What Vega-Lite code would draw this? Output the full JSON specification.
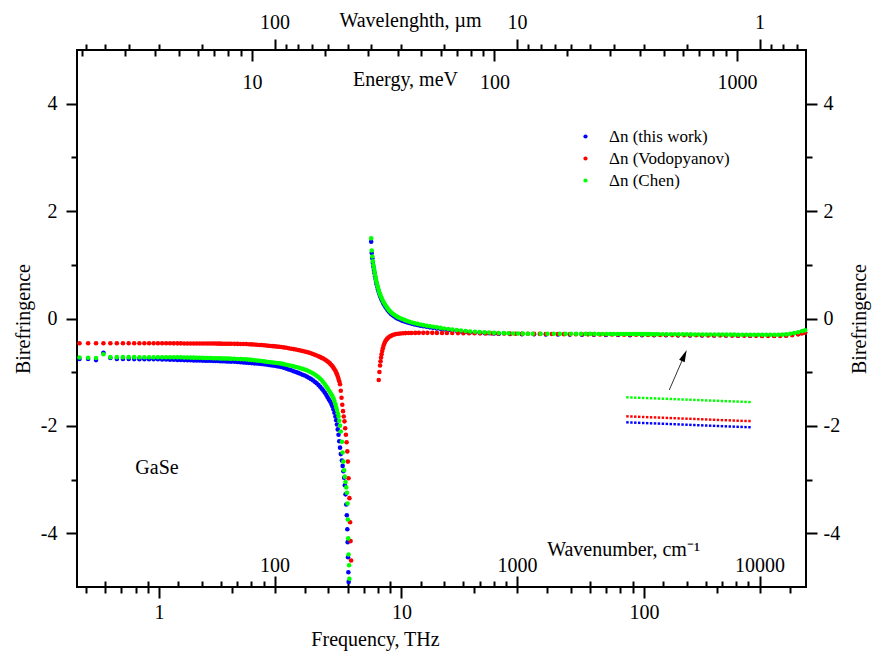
{
"$schema":"https://vega.github.io/schema/vega-lite/v6.json",
"width":729,"height":537,
"autosize":{"type":"none"},
"padding":{"left":77,"top":50,"right":66,"bottom":75},
"background":"white",
"config":{
 "view":{"stroke":"black","strokeWidth":2},
 "axis":{"domain":false,"grid":false,"tickColor":"black","tickWidth":2,"labelFont":"Liberation Serif","labelFontSize":20,"labelColor":"black","titleFont":"Liberation Serif","titleFontSize":20,"titleFontWeight":"normal","titleColor":"black","labelFlush":false,"labelOverlap":false},
 "legend":{"labelFont":"Liberation Serif","labelFontSize":17,"labelColor":"black"},
 "text":{"font":"Liberation Serif"}
},
"datasets":{
"main":[
{"f":0.47,"s":"B","v":-0.755},{"f":0.51,"s":"B","v":-0.755},{"f":0.55,"s":"B","v":-0.775},{"f":0.59,"s":"B","v":-0.64},{"f":0.63,"s":"B","v":-0.735},{"f":0.67,"s":"B","v":-0.755},{"f":0.71,"s":"B","v":-0.755},{"f":0.75,"s":"B","v":-0.755},{"f":0.79,"s":"B","v":-0.756},{"f":0.83,"s":"B","v":-0.757},{"f":0.87,"s":"B","v":-0.757},{"f":0.91,"s":"B","v":-0.758},{"f":0.95,"s":"B","v":-0.759},{"f":0.99,"s":"B","v":-0.76},{"f":1.03,"s":"B","v":-0.763},{"f":1.07,"s":"B","v":-0.765},{"f":1.11,"s":"B","v":-0.767},{"f":1.15,"s":"B","v":-0.769},{"f":1.19,"s":"B","v":-0.771},{"f":1.23,"s":"B","v":-0.773},{"f":1.27,"s":"B","v":-0.775},{"f":1.31,"s":"B","v":-0.777},{"f":1.35,"s":"B","v":-0.779},{"f":1.39,"s":"B","v":-0.78},{"f":1.43,"s":"B","v":-0.781},{"f":1.47,"s":"B","v":-0.783},{"f":1.51,"s":"B","v":-0.784},{"f":1.55,"s":"B","v":-0.785},{"f":1.59,"s":"B","v":-0.787},{"f":1.63,"s":"B","v":-0.788},{"f":1.67,"s":"B","v":-0.789},{"f":1.71,"s":"B","v":-0.791},{"f":1.75,"s":"B","v":-0.792},{"f":1.79,"s":"B","v":-0.794},{"f":1.83,"s":"B","v":-0.795},{"f":1.87,"s":"B","v":-0.797},{"f":1.91,"s":"B","v":-0.799},{"f":1.95,"s":"B","v":-0.801},{"f":1.99,"s":"B","v":-0.803},
{"f":2.05,"s":"B","v":-0.806},{"f":2.11,"s":"B","v":-0.81},{"f":2.17,"s":"B","v":-0.814},{"f":2.23,"s":"B","v":-0.818},{"f":2.29,"s":"B","v":-0.822},{"f":2.35,"s":"B","v":-0.826},{"f":2.41,"s":"B","v":-0.831},{"f":2.47,"s":"B","v":-0.835},{"f":2.53,"s":"B","v":-0.839},{"f":2.59,"s":"B","v":-0.844},{"f":2.65,"s":"B","v":-0.848},{"f":2.71,"s":"B","v":-0.853},{"f":2.77,"s":"B","v":-0.858},{"f":2.83,"s":"B","v":-0.863},{"f":2.89,"s":"B","v":-0.869},{"f":2.95,"s":"B","v":-0.875},{"f":3.01,"s":"B","v":-0.881},{"f":3.07,"s":"B","v":-0.887},{"f":3.13,"s":"B","v":-0.894},{"f":3.19,"s":"B","v":-0.902},
{"f":3.27,"s":"B","v":-0.918},{"f":3.35,"s":"B","v":-0.933},{"f":3.43,"s":"B","v":-0.95},{"f":3.51,"s":"B","v":-0.965},{"f":3.59,"s":"B","v":-0.981},{"f":3.67,"s":"B","v":-0.997},{"f":3.75,"s":"B","v":-1.013},{"f":3.83,"s":"B","v":-1.03},{"f":3.91,"s":"B","v":-1.047},{"f":3.99,"s":"B","v":-1.063},{"f":4.07,"s":"B","v":-1.082},{"f":4.15,"s":"B","v":-1.103},{"f":4.23,"s":"B","v":-1.125},{"f":4.31,"s":"B","v":-1.15},{"f":4.39,"s":"B","v":-1.177},{"f":4.47,"s":"B","v":-1.207},
{"f":4.55,"s":"B","v":-1.24},{"f":4.62,"s":"B","v":-1.272},{"f":4.69,"s":"B","v":-1.306},{"f":4.76,"s":"B","v":-1.343},{"f":4.83,"s":"B","v":-1.383},{"f":4.9,"s":"B","v":-1.425},{"f":4.96,"s":"B","v":-1.465},{"f":5.02,"s":"B","v":-1.507},{"f":5.08,"s":"B","v":-1.545},{"f":5.14,"s":"B","v":-1.59},{"f":5.19,"s":"B","v":-1.635},{"f":5.24,"s":"B","v":-1.69},{"f":5.29,"s":"B","v":-1.755},{"f":5.34,"s":"B","v":-1.825},{"f":5.38,"s":"B","v":-1.895},{"f":5.42,"s":"B","v":-1.975},{"f":5.46,"s":"B","v":-2.065},{"f":5.5,"s":"B","v":-2.165},{"f":5.54,"s":"B","v":-2.285},{"f":5.58,"s":"B","v":-2.405},{"f":5.62,"s":"B","v":-2.525},
{"f":5.68,"s":"B","v":-2.645},{"f":5.72,"s":"B","v":-2.745},{"f":5.76,"s":"B","v":-2.845},{"f":5.8,"s":"B","v":-2.965},{"f":5.84,"s":"B","v":-3.105},{"f":5.88,"s":"B","v":-3.275},{"f":5.92,"s":"B","v":-3.465},{"f":5.95,"s":"B","v":-3.665},{"f":5.98,"s":"B","v":-3.925},{"f":6.0,"s":"B","v":-4.165},{"f":6.02,"s":"B","v":-4.445},{"f":6.04,"s":"B","v":-4.725},{"f":6.055,"s":"B","v":-4.905},
{"f":7.5,"s":"B","v":1.43},{"f":7.54,"s":"B","v":1.22},{"f":7.58,"s":"B","v":1.12},{"f":7.62,"s":"B","v":1.035},{"f":7.66,"s":"B","v":0.965},{"f":7.7,"s":"B","v":0.905},{"f":7.74,"s":"B","v":0.845},{"f":7.78,"s":"B","v":0.785},{"f":7.82,"s":"B","v":0.735},{"f":7.86,"s":"B","v":0.685},{"f":7.9,"s":"B","v":0.64},{"f":7.95,"s":"B","v":0.59},{"f":8.0,"s":"B","v":0.545},{"f":8.05,"s":"B","v":0.5},{"f":8.1,"s":"B","v":0.46},{"f":8.16,"s":"B","v":0.42},{"f":8.22,"s":"B","v":0.385},{"f":8.28,"s":"B","v":0.35},{"f":8.35,"s":"B","v":0.315},{"f":8.42,"s":"B","v":0.28},{"f":8.5,"s":"B","v":0.25},{"f":8.58,"s":"B","v":0.22},{"f":8.67,"s":"B","v":0.19},{"f":8.76,"s":"B","v":0.16},{"f":8.86,"s":"B","v":0.13},{"f":8.97,"s":"B","v":0.105},{"f":9.08,"s":"B","v":0.08},{"f":9.2,"s":"B","v":0.06},{"f":9.33,"s":"B","v":0.04},{"f":9.47,"s":"B","v":0.02},{"f":9.62,"s":"B","v":0},{"f":9.78,"s":"B","v":-0.015},{"f":9.95,"s":"B","v":-0.03},{"f":10.13,"s":"B","v":-0.045},{"f":10.33,"s":"B","v":-0.058},{"f":10.55,"s":"B","v":-0.072},{"f":10.79,"s":"B","v":-0.085},{"f":11.05,"s":"B","v":-0.097},{"f":11.33,"s":"B","v":-0.11},{"f":11.63,"s":"B","v":-0.122},{"f":11.95,"s":"B","v":-0.133},{"f":12.3,"s":"B","v":-0.143},{"f":12.7,"s":"B","v":-0.155},{"f":13.1,"s":"B","v":-0.165},{"f":13.5,"s":"B","v":-0.174},{"f":14.0,"s":"B","v":-0.184},{"f":14.5,"s":"B","v":-0.193},{"f":15.0,"s":"B","v":-0.202},{"f":15.6,"s":"B","v":-0.212},{"f":16.2,"s":"B","v":-0.221},{"f":16.9,"s":"B","v":-0.23},{"f":17.6,"s":"B","v":-0.239},{"f":18.4,"s":"B","v":-0.247},{"f":19.2,"s":"B","v":-0.255},{"f":20.1,"s":"B","v":-0.261},{"f":21.0,"s":"B","v":-0.267},{"f":22.0,"s":"B","v":-0.272},{"f":23.0,"s":"B","v":-0.276},{"f":24.1,"s":"B","v":-0.28},{"f":25.2,"s":"B","v":-0.283},
{"f":28,"s":"B","v":-0.288},{"f":31.4,"s":"B","v":-0.291},{"f":35.2,"s":"B","v":-0.294},{"f":39.4,"s":"B","v":-0.296},{"f":44.2,"s":"B","v":-0.298},{"f":49.5,"s":"B","v":-0.3},{"f":55.5,"s":"B","v":-0.302},{"f":62.2,"s":"B","v":-0.304},{"f":69.7,"s":"B","v":-0.306},{"f":78.2,"s":"B","v":-0.308},{"f":87.6,"s":"B","v":-0.31},{"f":98.2,"s":"B","v":-0.311},{"f":110,"s":"B","v":-0.312},{"f":123.4,"s":"B","v":-0.313},{"f":138.3,"s":"B","v":-0.314},{"f":155,"s":"B","v":-0.315},{"f":173.7,"s":"B","v":-0.316},{"f":194.7,"s":"B","v":-0.317},{"f":218,"s":"B","v":-0.318},{"f":244.5,"s":"B","v":-0.319},{"f":274,"s":"B","v":-0.32},{"f":307,"s":"B","v":-0.321},{"f":344.5,"s":"B","v":-0.32},{"f":386,"s":"B","v":-0.315},{"f":432.5,"s":"B","v":-0.29},{"f":462,"s":"B","v":-0.26},
{"f":0.47,"s":"R","v":-0.46},{"f":0.51,"s":"R","v":-0.46},{"f":0.55,"s":"R","v":-0.46},{"f":0.59,"s":"R","v":-0.46},{"f":0.63,"s":"R","v":-0.46},{"f":0.67,"s":"R","v":-0.46},{"f":0.71,"s":"R","v":-0.46},{"f":0.75,"s":"R","v":-0.46},{"f":0.79,"s":"R","v":-0.46},{"f":0.83,"s":"R","v":-0.46},{"f":0.87,"s":"R","v":-0.46},{"f":0.91,"s":"R","v":-0.46},{"f":0.95,"s":"R","v":-0.461},{"f":0.99,"s":"R","v":-0.461},{"f":1.03,"s":"R","v":-0.462},{"f":1.07,"s":"R","v":-0.462},{"f":1.11,"s":"R","v":-0.462},{"f":1.15,"s":"R","v":-0.463},{"f":1.19,"s":"R","v":-0.463},{"f":1.23,"s":"R","v":-0.463},{"f":1.27,"s":"R","v":-0.464},{"f":1.31,"s":"R","v":-0.464},{"f":1.35,"s":"R","v":-0.464},{"f":1.39,"s":"R","v":-0.465},{"f":1.43,"s":"R","v":-0.465},{"f":1.47,"s":"R","v":-0.465},{"f":1.51,"s":"R","v":-0.466},{"f":1.55,"s":"R","v":-0.466},{"f":1.59,"s":"R","v":-0.466},{"f":1.63,"s":"R","v":-0.467},{"f":1.67,"s":"R","v":-0.467},{"f":1.71,"s":"R","v":-0.467},{"f":1.75,"s":"R","v":-0.468},{"f":1.79,"s":"R","v":-0.468},{"f":1.83,"s":"R","v":-0.469},{"f":1.87,"s":"R","v":-0.469},{"f":1.91,"s":"R","v":-0.47},{"f":1.95,"s":"R","v":-0.47},{"f":1.99,"s":"R","v":-0.471},
{"f":2.05,"s":"R","v":-0.472},{"f":2.11,"s":"R","v":-0.473},{"f":2.17,"s":"R","v":-0.474},{"f":2.23,"s":"R","v":-0.475},{"f":2.29,"s":"R","v":-0.476},{"f":2.35,"s":"R","v":-0.479},{"f":2.41,"s":"R","v":-0.482},{"f":2.47,"s":"R","v":-0.485},{"f":2.53,"s":"R","v":-0.488},{"f":2.59,"s":"R","v":-0.492},{"f":2.65,"s":"R","v":-0.495},{"f":2.71,"s":"R","v":-0.499},{"f":2.77,"s":"R","v":-0.503},{"f":2.83,"s":"R","v":-0.507},{"f":2.89,"s":"R","v":-0.511},{"f":2.95,"s":"R","v":-0.515},{"f":3.01,"s":"R","v":-0.519},{"f":3.07,"s":"R","v":-0.523},{"f":3.13,"s":"R","v":-0.526},{"f":3.19,"s":"R","v":-0.53},
{"f":3.27,"s":"R","v":-0.538},{"f":3.35,"s":"R","v":-0.546},{"f":3.43,"s":"R","v":-0.554},{"f":3.51,"s":"R","v":-0.562},{"f":3.59,"s":"R","v":-0.57},{"f":3.67,"s":"R","v":-0.578},{"f":3.75,"s":"R","v":-0.587},{"f":3.83,"s":"R","v":-0.596},{"f":3.91,"s":"R","v":-0.605},{"f":3.99,"s":"R","v":-0.613},{"f":4.07,"s":"R","v":-0.623},{"f":4.15,"s":"R","v":-0.635},{"f":4.23,"s":"R","v":-0.648},{"f":4.31,"s":"R","v":-0.661},{"f":4.39,"s":"R","v":-0.675},{"f":4.47,"s":"R","v":-0.69},
{"f":4.55,"s":"R","v":-0.705},{"f":4.62,"s":"R","v":-0.719},{"f":4.69,"s":"R","v":-0.733},{"f":4.76,"s":"R","v":-0.747},{"f":4.83,"s":"R","v":-0.765},{"f":4.9,"s":"R","v":-0.783},{"f":4.96,"s":"R","v":-0.8},{"f":5.02,"s":"R","v":-0.82},{"f":5.08,"s":"R","v":-0.841},{"f":5.14,"s":"R","v":-0.865},{"f":5.19,"s":"R","v":-0.89},{"f":5.24,"s":"R","v":-0.915},{"f":5.29,"s":"R","v":-0.945},{"f":5.34,"s":"R","v":-0.975},{"f":5.38,"s":"R","v":-1.005},{"f":5.42,"s":"R","v":-1.04},{"f":5.46,"s":"R","v":-1.08},{"f":5.5,"s":"R","v":-1.125},{"f":5.54,"s":"R","v":-1.17},
{"f":5.58,"s":"R","v":-1.225},{"f":5.62,"s":"R","v":-1.345},{"f":5.66,"s":"R","v":-1.475},{"f":5.7,"s":"R","v":-1.605},{"f":5.74,"s":"R","v":-1.725},{"f":5.78,"s":"R","v":-1.825},{"f":5.82,"s":"R","v":-1.915},{"f":5.86,"s":"R","v":-2.045},{"f":5.9,"s":"R","v":-2.165},{"f":5.94,"s":"R","v":-2.305},{"f":5.98,"s":"R","v":-2.475},{"f":6.01,"s":"R","v":-2.665},{"f":6.05,"s":"R","v":-2.975},{"f":6.1,"s":"R","v":-3.345},{"f":6.14,"s":"R","v":-3.795},{"f":6.17,"s":"R","v":-4.145},{"f":6.2,"s":"R","v":-4.505},
{"f":8.06,"s":"R","v":-1.145},{"f":8.11,"s":"R","v":-0.995},{"f":8.16,"s":"R","v":-0.875},{"f":8.2,"s":"R","v":-0.795},{"f":8.24,"s":"R","v":-0.725},{"f":8.28,"s":"R","v":-0.665},{"f":8.33,"s":"R","v":-0.605},{"f":8.38,"s":"R","v":-0.555},{"f":8.44,"s":"R","v":-0.505},{"f":8.5,"s":"R","v":-0.465},{"f":8.57,"s":"R","v":-0.43},{"f":8.65,"s":"R","v":-0.4},{"f":8.74,"s":"R","v":-0.375},{"f":8.84,"s":"R","v":-0.355},{"f":8.95,"s":"R","v":-0.335},{"f":9.07,"s":"R","v":-0.32},{"f":9.2,"s":"R","v":-0.307},{"f":9.35,"s":"R","v":-0.297},{"f":9.5,"s":"R","v":-0.29},{"f":9.7,"s":"R","v":-0.283},{"f":9.9,"s":"R","v":-0.278},{"f":10.15,"s":"R","v":-0.275},{"f":10.4,"s":"R","v":-0.272},{"f":10.7,"s":"R","v":-0.27},{"f":11.0,"s":"R","v":-0.269},{"f":11.4,"s":"R","v":-0.268},{"f":11.8,"s":"R","v":-0.267},{"f":12.3,"s":"R","v":-0.267},{"f":12.8,"s":"R","v":-0.267},{"f":13.4,"s":"R","v":-0.267},{"f":14.0,"s":"R","v":-0.268},{"f":14.7,"s":"R","v":-0.269},{"f":15.4,"s":"R","v":-0.27},{"f":16.2,"s":"R","v":-0.271},{"f":17.1,"s":"R","v":-0.272},{"f":18.0,"s":"R","v":-0.273},{"f":19.0,"s":"R","v":-0.275},{"f":20.0,"s":"R","v":-0.276},{"f":21.1,"s":"R","v":-0.277},{"f":22.3,"s":"R","v":-0.278},{"f":23.6,"s":"R","v":-0.279},{"f":25,"s":"R","v":-0.28},
{"f":26.5,"s":"R","v":-0.281},{"f":28,"s":"R","v":-0.282},{"f":29.6,"s":"R","v":-0.283},{"f":31.4,"s":"R","v":-0.284},{"f":33.2,"s":"R","v":-0.285},{"f":35.2,"s":"R","v":-0.286},{"f":37.2,"s":"R","v":-0.287},{"f":39.4,"s":"R","v":-0.288},{"f":41.7,"s":"R","v":-0.289},{"f":44.2,"s":"R","v":-0.29},{"f":46.8,"s":"R","v":-0.291},{"f":49.5,"s":"R","v":-0.292},{"f":52.4,"s":"R","v":-0.293},{"f":55.5,"s":"R","v":-0.294},{"f":58.8,"s":"R","v":-0.295},{"f":62.2,"s":"R","v":-0.296},{"f":65.9,"s":"R","v":-0.297},{"f":69.7,"s":"R","v":-0.298},{"f":73.8,"s":"R","v":-0.299},{"f":78.2,"s":"R","v":-0.3},{"f":82.8,"s":"R","v":-0.301},{"f":87.6,"s":"R","v":-0.302},{"f":92.8,"s":"R","v":-0.303},{"f":98.2,"s":"R","v":-0.304},{"f":104,"s":"R","v":-0.305},{"f":110,"s":"R","v":-0.306},{"f":116.5,"s":"R","v":-0.307},{"f":123.4,"s":"R","v":-0.308},{"f":130.6,"s":"R","v":-0.309},{"f":138.3,"s":"R","v":-0.31},{"f":146.4,"s":"R","v":-0.311},{"f":155,"s":"R","v":-0.312},{"f":164,"s":"R","v":-0.313},{"f":173.7,"s":"R","v":-0.314},{"f":183.9,"s":"R","v":-0.315},{"f":194.7,"s":"R","v":-0.316},{"f":206,"s":"R","v":-0.317},{"f":218,"s":"R","v":-0.318},{"f":231,"s":"R","v":-0.319},{"f":244.5,"s":"R","v":-0.32},{"f":259,"s":"R","v":-0.321},{"f":274,"s":"R","v":-0.322},{"f":290,"s":"R","v":-0.323},{"f":307,"s":"R","v":-0.324},{"f":325,"s":"R","v":-0.325},{"f":344.5,"s":"R","v":-0.325},{"f":364.5,"s":"R","v":-0.324},{"f":386,"s":"R","v":-0.32},{"f":408.5,"s":"R","v":-0.31},{"f":432.5,"s":"R","v":-0.295},{"f":448,"s":"R","v":-0.28},{"f":462,"s":"R","v":-0.265},
{"f":0.47,"s":"G","v":-0.725},{"f":0.51,"s":"G","v":-0.73},{"f":0.55,"s":"G","v":-0.735},{"f":0.59,"s":"G","v":-0.665},{"f":0.63,"s":"G","v":-0.72},{"f":0.67,"s":"G","v":-0.72},{"f":0.71,"s":"G","v":-0.72},{"f":0.75,"s":"G","v":-0.72},{"f":0.79,"s":"G","v":-0.72},{"f":0.83,"s":"G","v":-0.721},{"f":0.87,"s":"G","v":-0.721},{"f":0.91,"s":"G","v":-0.721},{"f":0.95,"s":"G","v":-0.722},{"f":0.99,"s":"G","v":-0.722},{"f":1.03,"s":"G","v":-0.722},{"f":1.07,"s":"G","v":-0.722},{"f":1.11,"s":"G","v":-0.722},{"f":1.15,"s":"G","v":-0.722},{"f":1.19,"s":"G","v":-0.723},{"f":1.23,"s":"G","v":-0.723},{"f":1.27,"s":"G","v":-0.725},{"f":1.31,"s":"G","v":-0.726},{"f":1.35,"s":"G","v":-0.728},{"f":1.39,"s":"G","v":-0.729},{"f":1.43,"s":"G","v":-0.731},{"f":1.47,"s":"G","v":-0.732},{"f":1.51,"s":"G","v":-0.733},{"f":1.55,"s":"G","v":-0.735},{"f":1.59,"s":"G","v":-0.736},{"f":1.63,"s":"G","v":-0.737},{"f":1.67,"s":"G","v":-0.739},{"f":1.71,"s":"G","v":-0.74},{"f":1.75,"s":"G","v":-0.741},{"f":1.79,"s":"G","v":-0.743},{"f":1.83,"s":"G","v":-0.744},{"f":1.87,"s":"G","v":-0.745},{"f":1.91,"s":"G","v":-0.746},{"f":1.95,"s":"G","v":-0.747},{"f":1.99,"s":"G","v":-0.748},
{"f":2.05,"s":"G","v":-0.751},{"f":2.11,"s":"G","v":-0.753},{"f":2.17,"s":"G","v":-0.756},{"f":2.23,"s":"G","v":-0.758},{"f":2.29,"s":"G","v":-0.761},{"f":2.35,"s":"G","v":-0.766},{"f":2.41,"s":"G","v":-0.771},{"f":2.47,"s":"G","v":-0.776},{"f":2.53,"s":"G","v":-0.781},{"f":2.59,"s":"G","v":-0.787},{"f":2.65,"s":"G","v":-0.792},{"f":2.71,"s":"G","v":-0.798},{"f":2.77,"s":"G","v":-0.804},{"f":2.83,"s":"G","v":-0.809},{"f":2.89,"s":"G","v":-0.814},{"f":2.95,"s":"G","v":-0.819},{"f":3.01,"s":"G","v":-0.824},{"f":3.07,"s":"G","v":-0.829},{"f":3.13,"s":"G","v":-0.834},{"f":3.19,"s":"G","v":-0.84},
{"f":3.27,"s":"G","v":-0.85},{"f":3.35,"s":"G","v":-0.86},{"f":3.43,"s":"G","v":-0.87},{"f":3.51,"s":"G","v":-0.88},{"f":3.59,"s":"G","v":-0.891},{"f":3.67,"s":"G","v":-0.902},{"f":3.75,"s":"G","v":-0.913},{"f":3.83,"s":"G","v":-0.925},{"f":3.91,"s":"G","v":-0.938},{"f":3.99,"s":"G","v":-0.951},{"f":4.07,"s":"G","v":-0.965},{"f":4.15,"s":"G","v":-0.982},{"f":4.23,"s":"G","v":-1.0},{"f":4.31,"s":"G","v":-1.02},{"f":4.39,"s":"G","v":-1.042},{"f":4.47,"s":"G","v":-1.065},
{"f":4.55,"s":"G","v":-1.093},{"f":4.62,"s":"G","v":-1.121},{"f":4.69,"s":"G","v":-1.152},{"f":4.76,"s":"G","v":-1.187},{"f":4.83,"s":"G","v":-1.225},{"f":4.9,"s":"G","v":-1.265},{"f":4.96,"s":"G","v":-1.3},{"f":5.02,"s":"G","v":-1.34},{"f":5.08,"s":"G","v":-1.375},{"f":5.14,"s":"G","v":-1.415},{"f":5.19,"s":"G","v":-1.445},{"f":5.24,"s":"G","v":-1.485},{"f":5.29,"s":"G","v":-1.535},{"f":5.34,"s":"G","v":-1.595},{"f":5.38,"s":"G","v":-1.655},{"f":5.42,"s":"G","v":-1.705},{"f":5.46,"s":"G","v":-1.765},{"f":5.5,"s":"G","v":-1.825},{"f":5.54,"s":"G","v":-1.905},{"f":5.58,"s":"G","v":-1.995},{"f":5.62,"s":"G","v":-2.105},
{"f":5.68,"s":"G","v":-2.295},{"f":5.72,"s":"G","v":-2.495},{"f":5.76,"s":"G","v":-2.665},{"f":5.8,"s":"G","v":-2.825},{"f":5.84,"s":"G","v":-2.945},{"f":5.88,"s":"G","v":-3.045},{"f":5.92,"s":"G","v":-3.145},{"f":5.96,"s":"G","v":-3.245},{"f":5.99,"s":"G","v":-3.445},{"f":6.01,"s":"G","v":-3.745},{"f":6.03,"s":"G","v":-4.095},{"f":6.05,"s":"G","v":-4.395},{"f":6.08,"s":"G","v":-4.595},{"f":6.1,"s":"G","v":-4.845},
{"f":7.5,"s":"G","v":1.495},{"f":7.54,"s":"G","v":1.265},{"f":7.58,"s":"G","v":1.155},{"f":7.62,"s":"G","v":1.065},{"f":7.66,"s":"G","v":0.995},{"f":7.7,"s":"G","v":0.935},{"f":7.74,"s":"G","v":0.875},{"f":7.78,"s":"G","v":0.815},{"f":7.82,"s":"G","v":0.765},{"f":7.86,"s":"G","v":0.715},{"f":7.9,"s":"G","v":0.67},{"f":7.95,"s":"G","v":0.62},{"f":8.0,"s":"G","v":0.575},{"f":8.05,"s":"G","v":0.53},{"f":8.1,"s":"G","v":0.49},{"f":8.16,"s":"G","v":0.45},{"f":8.22,"s":"G","v":0.415},{"f":8.28,"s":"G","v":0.38},{"f":8.35,"s":"G","v":0.345},{"f":8.42,"s":"G","v":0.31},{"f":8.5,"s":"G","v":0.28},{"f":8.58,"s":"G","v":0.25},{"f":8.67,"s":"G","v":0.22},{"f":8.76,"s":"G","v":0.19},{"f":8.86,"s":"G","v":0.16},{"f":8.97,"s":"G","v":0.135},{"f":9.08,"s":"G","v":0.11},{"f":9.2,"s":"G","v":0.09},{"f":9.33,"s":"G","v":0.07},{"f":9.47,"s":"G","v":0.05},{"f":9.62,"s":"G","v":0.03},{"f":9.78,"s":"G","v":0.015},{"f":9.95,"s":"G","v":0},{"f":10.13,"s":"G","v":-0.015},{"f":10.33,"s":"G","v":-0.03},{"f":10.55,"s":"G","v":-0.045},{"f":10.79,"s":"G","v":-0.06},{"f":11.05,"s":"G","v":-0.073},{"f":11.33,"s":"G","v":-0.087},{"f":11.63,"s":"G","v":-0.1},{"f":11.95,"s":"G","v":-0.112},{"f":12.3,"s":"G","v":-0.123},{"f":12.7,"s":"G","v":-0.135},{"f":13.1,"s":"G","v":-0.145},{"f":13.5,"s":"G","v":-0.155},{"f":14.0,"s":"G","v":-0.165},{"f":14.5,"s":"G","v":-0.175},{"f":15.0,"s":"G","v":-0.185},{"f":15.6,"s":"G","v":-0.195},{"f":16.2,"s":"G","v":-0.205},{"f":16.9,"s":"G","v":-0.215},{"f":17.6,"s":"G","v":-0.225},{"f":18.4,"s":"G","v":-0.233},{"f":19.2,"s":"G","v":-0.241},{"f":20.1,"s":"G","v":-0.247},{"f":21.0,"s":"G","v":-0.253},{"f":22.0,"s":"G","v":-0.258},{"f":23.0,"s":"G","v":-0.263},{"f":24.1,"s":"G","v":-0.267},{"f":25.2,"s":"G","v":-0.27},{"f":26.4,"s":"G","v":-0.273},{"f":27.6,"s":"G","v":-0.276},{"f":28.9,"s":"G","v":-0.278},{"f":30.3,"s":"G","v":-0.28},{"f":31.7,"s":"G","v":-0.282},{"f":33.2,"s":"G","v":-0.283},{"f":34.8,"s":"G","v":-0.284},
{"f":37.5,"s":"G","v":-0.285},{"f":40,"s":"G","v":-0.285},{"f":42.5,"s":"G","v":-0.285},{"f":45,"s":"G","v":-0.286},{"f":47.5,"s":"G","v":-0.286},{"f":50,"s":"G","v":-0.286},{"f":52.5,"s":"G","v":-0.286},{"f":55,"s":"G","v":-0.287},{"f":57.5,"s":"G","v":-0.287},{"f":60,"s":"G","v":-0.287},{"f":62.5,"s":"G","v":-0.287},{"f":65,"s":"G","v":-0.288},{"f":67.5,"s":"G","v":-0.288},{"f":70,"s":"G","v":-0.288},{"f":72.5,"s":"G","v":-0.288},{"f":75,"s":"G","v":-0.289},{"f":77.5,"s":"G","v":-0.289},{"f":80,"s":"G","v":-0.289},{"f":82.5,"s":"G","v":-0.289},{"f":85,"s":"G","v":-0.29},{"f":87.5,"s":"G","v":-0.29},{"f":90,"s":"G","v":-0.29},{"f":92.5,"s":"G","v":-0.29},{"f":95,"s":"G","v":-0.29},{"f":97.5,"s":"G","v":-0.291},{"f":100,"s":"G","v":-0.291},{"f":102.5,"s":"G","v":-0.291},{"f":105,"s":"G","v":-0.291},{"f":107.5,"s":"G","v":-0.292},{"f":110,"s":"G","v":-0.292},{"f":112.5,"s":"G","v":-0.292},
{"f":115,"s":"G","v":-0.292},{"f":119.5,"s":"G","v":-0.293},{"f":124,"s":"G","v":-0.293},{"f":129,"s":"G","v":-0.294},{"f":134,"s":"G","v":-0.294},{"f":139,"s":"G","v":-0.295},{"f":144.5,"s":"G","v":-0.295},{"f":150,"s":"G","v":-0.296},{"f":156,"s":"G","v":-0.296},{"f":162,"s":"G","v":-0.297},{"f":168,"s":"G","v":-0.297},{"f":174.5,"s":"G","v":-0.298},{"f":181,"s":"G","v":-0.298},{"f":188,"s":"G","v":-0.299},{"f":195.5,"s":"G","v":-0.299},{"f":203,"s":"G","v":-0.3},{"f":211,"s":"G","v":-0.3},{"f":219,"s":"G","v":-0.3},{"f":227.5,"s":"G","v":-0.301},{"f":236,"s":"G","v":-0.301},{"f":245,"s":"G","v":-0.302},{"f":254.5,"s":"G","v":-0.302},{"f":264.5,"s":"G","v":-0.303},{"f":274.5,"s":"G","v":-0.303},{"f":285,"s":"G","v":-0.303},{"f":296,"s":"G","v":-0.304},{"f":307.5,"s":"G","v":-0.304},{"f":319.5,"s":"G","v":-0.304},{"f":332,"s":"G","v":-0.304},{"f":345,"s":"G","v":-0.303},{"f":358,"s":"G","v":-0.302},{"f":372,"s":"G","v":-0.3},{"f":386,"s":"G","v":-0.295},{"f":401,"s":"G","v":-0.285},{"f":416.5,"s":"G","v":-0.272},{"f":432.5,"s":"G","v":-0.255},{"f":449,"s":"G","v":-0.235},{"f":462,"s":"G","v":-0.22}
],
"inset":[
{"f":85.5,"s":"B","v":-1.934},{"f":88.8,"s":"B","v":-1.937},{"f":92.1,"s":"B","v":-1.94},{"f":95.6,"s":"B","v":-1.943},{"f":99.3,"s":"B","v":-1.946},{"f":103.1,"s":"B","v":-1.949},{"f":107,"s":"B","v":-1.952},{"f":111.1,"s":"B","v":-1.954},{"f":115.3,"s":"B","v":-1.957},{"f":119.7,"s":"B","v":-1.96},{"f":124.3,"s":"B","v":-1.963},{"f":129,"s":"B","v":-1.966},{"f":133.9,"s":"B","v":-1.969},{"f":139,"s":"B","v":-1.972},{"f":144.3,"s":"B","v":-1.975},{"f":149.8,"s":"B","v":-1.978},{"f":155.5,"s":"B","v":-1.981},{"f":161.4,"s":"B","v":-1.984},{"f":167.6,"s":"B","v":-1.987},{"f":174,"s":"B","v":-1.99},{"f":180.6,"s":"B","v":-1.993},{"f":187.5,"s":"B","v":-1.996},{"f":194.6,"s":"B","v":-1.999},{"f":202,"s":"B","v":-2.002},{"f":209.7,"s":"B","v":-2.005},{"f":217.7,"s":"B","v":-2.008},{"f":226,"s":"B","v":-2.011},{"f":234.6,"s":"B","v":-2.014},{"f":243.5,"s":"B","v":-2.017},{"f":252.8,"s":"B","v":-2.019},{"f":262.4,"s":"B","v":-2.022},{"f":272.4,"s":"B","v":-2.025},
{"f":85.5,"s":"R","v":-1.822},{"f":88.8,"s":"R","v":-1.825},{"f":92.1,"s":"R","v":-1.828},{"f":95.6,"s":"R","v":-1.831},{"f":99.3,"s":"R","v":-1.834},{"f":103.1,"s":"R","v":-1.837},{"f":107,"s":"R","v":-1.84},{"f":111.1,"s":"R","v":-1.842},{"f":115.3,"s":"R","v":-1.845},{"f":119.7,"s":"R","v":-1.848},{"f":124.3,"s":"R","v":-1.851},{"f":129,"s":"R","v":-1.854},{"f":133.9,"s":"R","v":-1.857},{"f":139,"s":"R","v":-1.86},{"f":144.3,"s":"R","v":-1.863},{"f":149.8,"s":"R","v":-1.866},{"f":155.5,"s":"R","v":-1.868},{"f":161.4,"s":"R","v":-1.871},{"f":167.6,"s":"R","v":-1.874},{"f":174,"s":"R","v":-1.877},{"f":180.6,"s":"R","v":-1.88},{"f":187.5,"s":"R","v":-1.883},{"f":194.6,"s":"R","v":-1.886},{"f":202,"s":"R","v":-1.889},{"f":209.7,"s":"R","v":-1.892},{"f":217.7,"s":"R","v":-1.894},{"f":226,"s":"R","v":-1.897},{"f":234.6,"s":"R","v":-1.9},{"f":243.5,"s":"R","v":-1.903},{"f":252.8,"s":"R","v":-1.906},{"f":262.4,"s":"R","v":-1.908},{"f":272.4,"s":"R","v":-1.91},
{"f":85.5,"s":"G","v":-1.468},{"f":88.8,"s":"G","v":-1.471},{"f":92.1,"s":"G","v":-1.474},{"f":95.6,"s":"G","v":-1.477},{"f":99.3,"s":"G","v":-1.479},{"f":103.1,"s":"G","v":-1.482},{"f":107,"s":"G","v":-1.485},{"f":111.1,"s":"G","v":-1.488},{"f":115.3,"s":"G","v":-1.491},{"f":119.7,"s":"G","v":-1.494},{"f":124.3,"s":"G","v":-1.496},{"f":129,"s":"G","v":-1.499},{"f":133.9,"s":"G","v":-1.502},{"f":139,"s":"G","v":-1.505},{"f":144.3,"s":"G","v":-1.508},{"f":149.8,"s":"G","v":-1.511},{"f":155.5,"s":"G","v":-1.513},{"f":161.4,"s":"G","v":-1.516},{"f":167.6,"s":"G","v":-1.519},{"f":174,"s":"G","v":-1.522},{"f":180.6,"s":"G","v":-1.525},{"f":187.5,"s":"G","v":-1.528},{"f":194.6,"s":"G","v":-1.53},{"f":202,"s":"G","v":-1.533},{"f":209.7,"s":"G","v":-1.536},{"f":217.7,"s":"G","v":-1.539},{"f":226,"s":"G","v":-1.542},{"f":234.6,"s":"G","v":-1.545},{"f":243.5,"s":"G","v":-1.547},{"f":252.8,"s":"G","v":-1.55},{"f":262.4,"s":"G","v":-1.553},{"f":272.4,"s":"G","v":-1.556}
],
"arrow":[{"f":127.2,"v":-1.331,"f2":146.7,"v2":-0.689}],
"note":[{"f":0.981,"v":-2.784,"t":"GaSe"}]
},
"resolve":{"axis":{"x":"independent","y":"independent"}},
"layer":[
{"data":{"name":"main"},"mark":{"type":"circle","size":21,"opacity":1},
 "encoding":{
  "x":{"field":"f","type":"quantitative","scale":{"type":"log","domain":[0.459,466],"nice":false},
       "axis":{"orient":"bottom","values":[1,10,100],"tickSize":11,"labelPadding":4,"labelExpr":"''+datum.value","title":"Frequency, THz","titleX":298,"titleY":58,"titleBaseline":"alphabetic","titleAlign":"center"}},
  "y":{"field":"v","type":"quantitative","scale":{"domain":[-5,5],"nice":false,"zero":false},
       "axis":{"orient":"left","values":[-4,-2,0,2,4],"tickSize":11,"labelPadding":9,"labelExpr":"''+datum.value","title":"Birefringence","titleX":-54,"titleY":268.5,"titleAngle":-90,"titleBaseline":"middle","titleAlign":"center"}},
  "color":{"field":"s","type":"nominal","scale":{"domain":["B","R","G"],"range":["#0000ff","#ff0000","#00ff00"]},
       "legend":{"orient":"none","legendX":500,"legendY":78,"title":null,"symbolType":"circle","symbolSize":18,"symbolOpacity":1,"symbolStrokeWidth":0,"labelFont":"Liberation Serif","labelFontSize":17,"labelColor":"black","labelOffset":15,"rowPadding":4,"padding":0,
       "labelExpr":"datum.label == 'B' ? 'Δn (this work)' : datum.label == 'R' ? 'Δn (Vodopyanov)' : 'Δn (Chen)'"}}
 }},
{"data":{"name":"inset"},"mark":{"type":"square","size":6,"opacity":1},
 "encoding":{
  "x":{"field":"f","type":"quantitative","scale":{"type":"log","domain":[0.459,466],"nice":false},
       "axis":{"orient":"bottom","values":[0.5,0.6,0.7,0.8,0.9,2,3,4,5,6,7,8,9,20,30,40,50,60,70,80,90,200,300,400],"tickSize":6,"labels":false,"title":null}},
  "y":{"field":"v","type":"quantitative","scale":{"domain":[-5,5],"nice":false,"zero":false},
       "axis":{"orient":"left","values":[-3,-1,1,3],"tickSize":6,"labels":false,"title":null}},
  "color":{"field":"s","type":"nominal","scale":{"domain":["B","R","G"],"range":["#0000ff","#ff0000","#00ff00"]},"legend":null}
 }},
{"data":{"name":"arrow"},"mark":{"type":"rule","color":"#333333","strokeWidth":1},
 "encoding":{
  "x":{"field":"f","type":"quantitative","scale":{"type":"log","domain":[0.459,466],"nice":false},
       "axis":{"orient":"top","values":[2.99792458,29.9792458,299.792458],"tickSize":11,"labelPadding":7,"labelExpr":"format(299.792458/datum.value,'.0f')","title":"Wavelenghth, µm","titleX":333,"titleY":-24,"titleBaseline":"alphabetic","titleAlign":"center"}},
  "y":{"field":"v","type":"quantitative","scale":{"domain":[-5,5],"nice":false,"zero":false},
       "axis":{"orient":"right","values":[-4,-2,0,2,4],"tickSize":11,"labelPadding":6,"labelExpr":"''+datum.value","title":"Birefringence","titleAngle":-90,"titleX":53,"titleY":268.5,"titleBaseline":"middle","titleAlign":"center"}},
  "x2":{"field":"f2"},"y2":{"field":"v2"}
 }},
{"data":{"name":"arrow"},"mark":{"type":"point","shape":"M0,-1L-0.5,1L0.5,1Z","size":144,"filled":true,"color":"black","opacity":1,"angle":23.5},
 "encoding":{
  "x":{"field":"f2","type":"quantitative","scale":{"type":"log","domain":[0.459,466],"nice":false},
       "axis":{"orient":"top","values":[0.499654,0.599585,0.749481,0.999308,1.498962,3.331027,3.747406,4.282749,4.996541,5.995849,7.494811,9.993082,14.989623,33.31027,37.47406,42.82749,49.96541,59.95849,74.94811,99.93082,149.89623,333.1027,374.7406,428.2749],"tickSize":6,"labels":false,"title":null}},
  "y":{"field":"v2","type":"quantitative","scale":{"domain":[-5,5],"nice":false,"zero":false},
       "axis":{"orient":"right","values":[-3,-1,1,3],"tickSize":6,"labels":false,"title":null}}
 }},
{"data":{"name":"note"},"mark":{"type":"text","font":"Liberation Serif","fontSize":20,"color":"black","align":"center","baseline":"middle"},
 "encoding":{
  "x":{"field":"f","type":"quantitative","scale":{"type":"log","domain":[0.459,466],"nice":false},
       "axis":{"orient":"bottom","offset":-537,"values":[2.417989,24.17989,241.7989],"tickSize":11,"labelPadding":11,"labelExpr":"format(datum.value*4.135667696,'.0f')","title":"Energy, meV","titleX":328,"titleY":35,"titleBaseline":"alphabetic","titleAlign":"center"}},
  "y":{"field":"v","type":"quantitative","scale":{"domain":[-5,5],"nice":false,"zero":false},"axis":null},
  "text":{"field":"t"}
 }},
{"data":{"values":[]},"mark":{"type":"point"},
 "encoding":{
  "x":{"field":"f","type":"quantitative","scale":{"type":"log","domain":[0.459,466],"nice":false},
       "axis":{"orient":"bottom","offset":-537,"values":[0.483598,0.725397,0.967196,1.208995,1.450794,1.692593,1.934391,2.17619,4.83598,7.25397,9.67196,12.08995,14.50794,16.92593,19.34391,21.7619,48.3598,72.5397,96.7196,120.8995,145.0794,169.2593,193.4391,217.619],"tickSize":6,"labels":false,"title":null}}
 }},
{"data":{"values":[]},"mark":{"type":"point"},
 "encoding":{
  "x":{"field":"f","type":"quantitative","scale":{"type":"log","domain":[0.459,466],"nice":false},
       "axis":{"orient":"top","offset":-537,"values":[2.99792458,29.9792458,299.792458],"tickSize":11,"labelPadding":1,"labelExpr":"format(datum.value/0.0299792458,'.0f')","title":"Wavenumber, cm⁻¹","titleX":546,"titleY":-32,"titleBaseline":"alphabetic","titleAlign":"center"}}
 }},
{"data":{"values":[]},"mark":{"type":"point"},
 "encoding":{
  "x":{"field":"f","type":"quantitative","scale":{"type":"log","domain":[0.459,466],"nice":false},
       "axis":{"orient":"top","offset":-537,"values":[0.599585,0.899377,1.19917,1.498962,1.798755,2.098547,2.39834,2.698132,5.99585,8.99377,11.9917,14.98962,17.98755,20.98547,23.9834,26.98132,59.9585,89.9377,119.917,149.8962,179.8755,209.8547,239.834,269.8132],"tickSize":6,"labels":false,"title":null}}
 }}
]
}
